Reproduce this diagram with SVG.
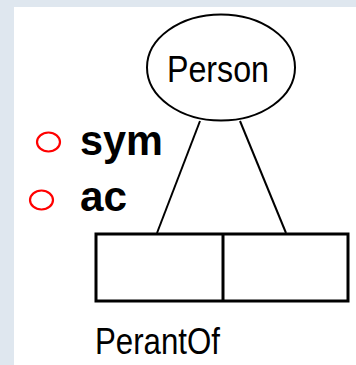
<svg xmlns="http://www.w3.org/2000/svg" width="356" height="365" viewBox="0 0 356 365">
  <style>
    .line { stroke: #000; stroke-width: 2; fill: none; }
    .label { font-family: "Liberation Sans", Arial, sans-serif; fill: #000; }
    .bullet { stroke: #ff0000; stroke-width: 2.2; fill: none; }
    .prop { font-family: "Liberation Sans", Arial, sans-serif; font-weight: bold; fill: #000; }
  </style>
  <rect x="0" y="0" width="356" height="365" fill="#dfe7ef"/>
  <rect x="14" y="7" width="342" height="358" fill="#ffffff"/>

  <g id="properties">
    <ellipse class="bullet" cx="48.5" cy="142" rx="11.5" ry="9.5"/>
    <text class="prop" x="80" y="155" font-size="43" textLength="83" lengthAdjust="spacingAndGlyphs">sym</text>
    <ellipse class="bullet" cx="41.5" cy="200" rx="11.5" ry="9.5"/>
    <text class="prop" x="80" y="211" font-size="43" textLength="47" lengthAdjust="spacingAndGlyphs">ac</text>
  </g>

  <g id="connectors">
    <line class="line" x1="200" y1="121" x2="157" y2="233"/>
    <line class="line" x1="240" y1="121" x2="286" y2="233"/>
  </g>

  <g id="person">
    <ellipse class="line" cx="221" cy="67.5" rx="74" ry="53"/>
    <text class="label" x="167" y="82" font-size="36" textLength="102" lengthAdjust="spacingAndGlyphs">Person</text>
  </g>

  <g id="parentOf">
    <rect x="96" y="234" width="252" height="67" fill="none" stroke="#000" stroke-width="3"/>
    <line x1="223" y1="234" x2="223" y2="301" stroke="#000" stroke-width="3"/>
    <text class="label" x="95" y="354" font-size="37" textLength="125" lengthAdjust="spacingAndGlyphs">PerantOf</text>
  </g>
</svg>
